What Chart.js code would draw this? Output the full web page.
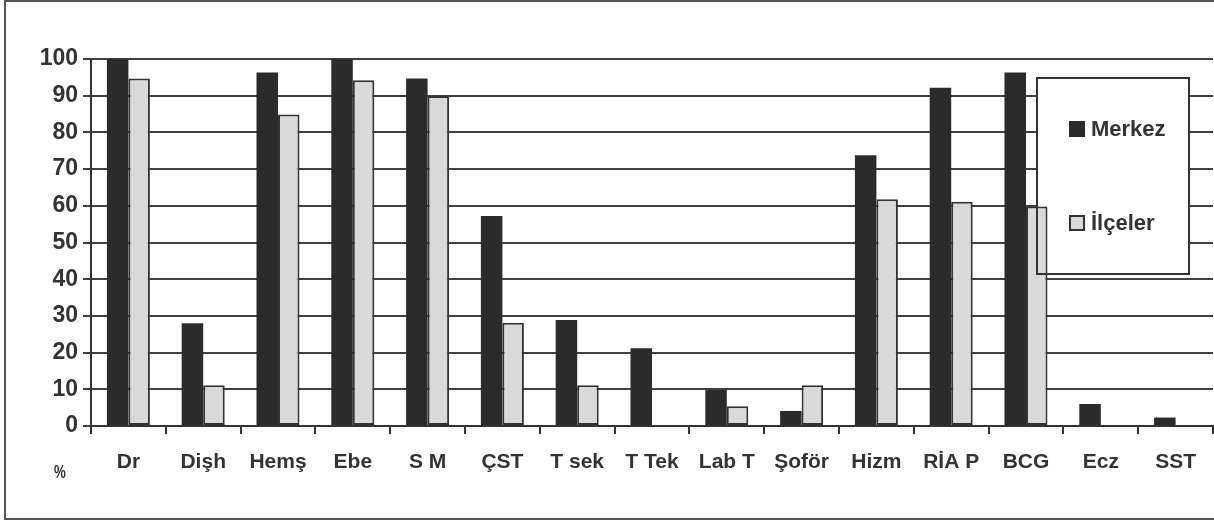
<!DOCTYPE html>
<html>
<head>
<meta charset="utf-8">
<style>
  html, body { margin: 0; padding: 0; background: #ffffff; }
  #wrap { width: 1214px; height: 521px; position: relative; }
  canvas { display: block; }
</style>
<script src="https://cdn.jsdelivr.net/npm/chart.js@4/dist/chart.umd.min.js"></script>
</head>
<body>
<div id="wrap"><canvas id="chart" width="1214" height="521"></canvas></div>
<script>
// Staff categories along the x axis
const categories = ['Dr', 'Dişh', 'Hemş', 'Ebe', 'S M', 'ÇST', 'T sek', 'T Tek', 'Lab T', 'Şoför', 'Hizm', 'RİA P', 'BCG', 'Ecz', 'SST'];

// Percentages per category
const merkez   = [100, 28, 96.3, 100, 94.7, 57.2, 28.9, 21.2, 9.8, 4.1, 73.8, 92.2, 96.3, 6.0, 2.3];
const ilceler  = [94.7, 11.1, 84.9, 94.2, 89.9, 28.1, 11.1, 0, 5.4, 11.1, 61.8, 61.1, 59.8, 0, 0];

const seriesNames = ['Merkez', 'İlçeler'];
const yTicks = [0, 10, 20, 30, 40, 50, 60, 70, 80, 90, 100];
const unitLabel = '%';

const INK = '#333333';
const DARK = '#2b2b2b';
const LIGHT = '#d9d9d9';
const FONT = '"Liberation Sans", Arial, sans-serif';

// Outer frame and the unit label under the value axis
const framePlugin = {
  id: 'frame',
  afterDraw(chart) {
    const ctx = chart.ctx;
    ctx.save();
    ctx.strokeStyle = '#555555';
    ctx.lineWidth = 2;
    ctx.strokeRect(5, 1, 1220, 518);
    ctx.fillStyle = INK;
    ctx.font = 'bold 19px ' + FONT;
    ctx.textAlign = 'center';
    ctx.textBaseline = 'middle';
    ctx.translate(60, 473);
    ctx.scale(0.7, 1);
    ctx.fillText(unitLabel, 0, 0);
    ctx.restore();
  }
};

// Boxed legend on the right: white body under the bars, frame and keys above them
const LEG = { x: 1037, y: 78, w: 152, h: 196 };
const boxLegendPlugin = {
  id: 'boxLegend',
  beforeDatasetsDraw(chart) {
    const ctx = chart.ctx;
    ctx.save();
    ctx.fillStyle = '#ffffff';
    ctx.fillRect(LEG.x, LEG.y, LEG.w, LEG.h);
    ctx.restore();
  },
  afterDatasetsDraw(chart) {
    const ctx = chart.ctx;
    ctx.save();
    ctx.strokeStyle = INK;
    ctx.lineWidth = 2;
    ctx.strokeRect(LEG.x, LEG.y, LEG.w, LEG.h);
    const rows = [129, 223];
    chart.data.datasets.forEach((ds, i) => {
      const cy = rows[i];
      ctx.fillStyle = ds.backgroundColor;
      ctx.fillRect(1069, cy - 8, 16, 16);
      if (ds.borderWidth) {
        ctx.strokeStyle = ds.borderColor;
        ctx.lineWidth = 2;
        ctx.strokeRect(1070, cy - 7, 14, 14);
      }
      ctx.fillStyle = INK;
      ctx.font = 'bold 22px ' + FONT;
      ctx.textAlign = 'left';
      ctx.textBaseline = 'middle';
      ctx.fillText(ds.label, 1091, cy + 1);
    });
    ctx.restore();
  }
};

new Chart(document.getElementById('chart'), {
  type: 'bar',
  data: {
    labels: categories,
    datasets: [
      {
        label: seriesNames[0],
        data: merkez,
        backgroundColor: DARK,
        borderWidth: 0,
        categoryPercentage: 0.575,
        barPercentage: 1.0
      },
      {
        label: seriesNames[1],
        data: ilceler,
        backgroundColor: LIGHT,
        borderColor: INK,
        borderWidth: 2,
        borderSkipped: false,
        categoryPercentage: 0.575,
        barPercentage: 1.0
      }
    ]
  },
  options: {
    responsive: false,
    animation: false,
    devicePixelRatio: 1,
    layout: { padding: { top: 59, right: 1, bottom: 0, left: 0 } },
    plugins: {
      legend: { display: false },
      tooltip: { enabled: false },
      title: { display: false }
    },
    scales: {
      x: {
        offset: true,
        grid: {
          offset: true,
          drawOnChartArea: false,
          drawTicks: true,
          tickLength: 8,
          color: INK,
          lineWidth: 2
        },
        border: { display: true, color: INK, width: 2 },
        ticks: {
          color: INK,
          font: { family: FONT, size: 21, weight: 'bold' },
          padding: 16,
          maxRotation: 0,
          autoSkip: false
        },
        afterFit(scale) { scale.height = 95; }
      },
      y: {
        min: 0,
        max: 100,
        afterBuildTicks(scale) { scale.ticks = yTicks.map(v => ({ value: v })); },
        grid: {
          color: '#404040',
          lineWidth: 2,
          drawTicks: true,
          tickLength: 8
        },
        border: { display: true, color: INK, width: 2 },
        ticks: {
          color: INK,
          font: { family: FONT, size: 23, weight: 'bold' },
          padding: 5
        },
        afterFit(scale) { scale.width = 91; }
      }
    }
  },
  plugins: [boxLegendPlugin, framePlugin]
});
</script>
</body>
</html>
